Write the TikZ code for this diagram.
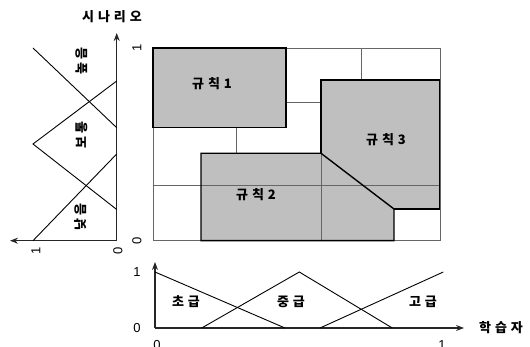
\documentclass[tikz,border=0pt]{standalone}
\usepackage{fontspec}
\setmainfont{Liberation Sans}
\newfontfamily\kr{Noto Sans CJK KR}[LetterSpace=30]
\usetikzlibrary{arrows.meta}
\begin{document}
\begin{tikzpicture}[x=1pt,y=-1pt,
  gridln/.style={black!60, line width=0.7pt},
  rulefill/.style={fill=black!25, draw=none},
  ruleedge/.style={draw=black, line width=1.4pt, line join=miter},
  mf/.style={black, line width=0.9pt},
  ax/.style={black!85, line width=1.1pt, -{Stealth[length=8pt,width=6pt]}},
  lbl/.style={font=\kr\bfseries\fontsize{13}{13}\selectfont, inner sep=0pt},
  num/.style={font=\fontsize{13}{13}\selectfont, inner sep=0pt},
]
\useasboundingbox (0,0) rectangle (530,347);
% named points of the rule map
\coordinate (b1) at (153,48);
\coordinate (b2) at (440,240.7);
% fills
\fill[rulefill] (153,48) rectangle (286,127.7);
\fill[rulefill] (201,153.3) -- (321,153.3) -- (394,209) -- (394,240.7) -- (201,240.7) -- cycle;
\fill[rulefill] (321,80) -- (439.3,80) -- (439.3,209) -- (394,209) -- (321,153.3) -- cycle;
% frame and grid
\draw[gridln] (b1) rectangle (b2);
\draw[gridln] (361.7,48) -- (361.7,80);
\draw[gridln] (286,102.7) -- (321,102.7);
\draw[gridln] (236,127.7) -- (236,153.3);
\draw[gridln] (153,185.3) -- (439.3,185.3);
\draw[gridln] (321,153.3) -- (321,240.7);
% rule borders
\draw[ruleedge] (153,48) rectangle (286,127.7);
\draw[ruleedge] (201,153.3) -- (321,153.3) -- (394,209) -- (394,240.7) -- (201,240.7) -- cycle;
\draw[ruleedge] (321,153.3) -- (321,80) -- (439.3,80) -- (439.3,209) -- (394,209);
\node[lbl] (r1) at (212,83.3) {규칙1};
\node[lbl] (r2) at (256,195) {규칙2};
\node[lbl] (r3) at (386,140) {규칙3};
% left (scenario) plot
\coordinate (lo) at (116.7,240.7);
\coordinate (ltop) at (116.7,33);
\coordinate (lleft) at (10,240.7);
\draw[ax] (lo) -- (ltop);
\draw[ax] (lo) -- (lleft);
\draw[mf] (33,48) -- (116.7,127.7);
\draw[mf] (116.7,81) -- (33,144) -- (116.7,209.5);
\draw[mf] (33,240.7) -- (116.7,154);
\node[lbl, rotate=90] (hi) at (82,61) {높음};
\node[lbl, rotate=90] (mid) at (82,135) {보통};
\node[lbl, rotate=90] (low) at (81,217) {낮음};
\node[num, rotate=90] at (36,251) {1};
\node[num, rotate=90] at (118,251) {0};
\node[num, rotate=90] at (137,48) {1};
\node[num, rotate=90] at (137,241) {0};
\node[lbl] (sc) at (112,17) {시나리오};
% bottom (learner) plot
\coordinate (bo) at (155,328);
\coordinate (btop) at (155,262);
\coordinate (bright) at (464,328);
\draw[ax] (bo) -- (btop);
\draw[ax] (bo) -- (bright);
\draw[mf] (155,272) -- (285,328);
\draw[mf] (201.7,328) -- (299.3,272) -- (392.3,328);
\draw[mf] (320,328) -- (443.3,272);
\node[lbl] (beg) at (186,302) {초급};
\node[lbl] (int) at (291,302) {중급};
\node[lbl] (adv) at (423,302) {고급};
\node[num] at (137,272) {1};
\node[num] at (137,328) {0};
\node[num] at (157,345) {0};
\node[num] at (442,345) {1};
\node[lbl] (ln) at (501,328) {학습자};
\end{tikzpicture}
\end{document}
